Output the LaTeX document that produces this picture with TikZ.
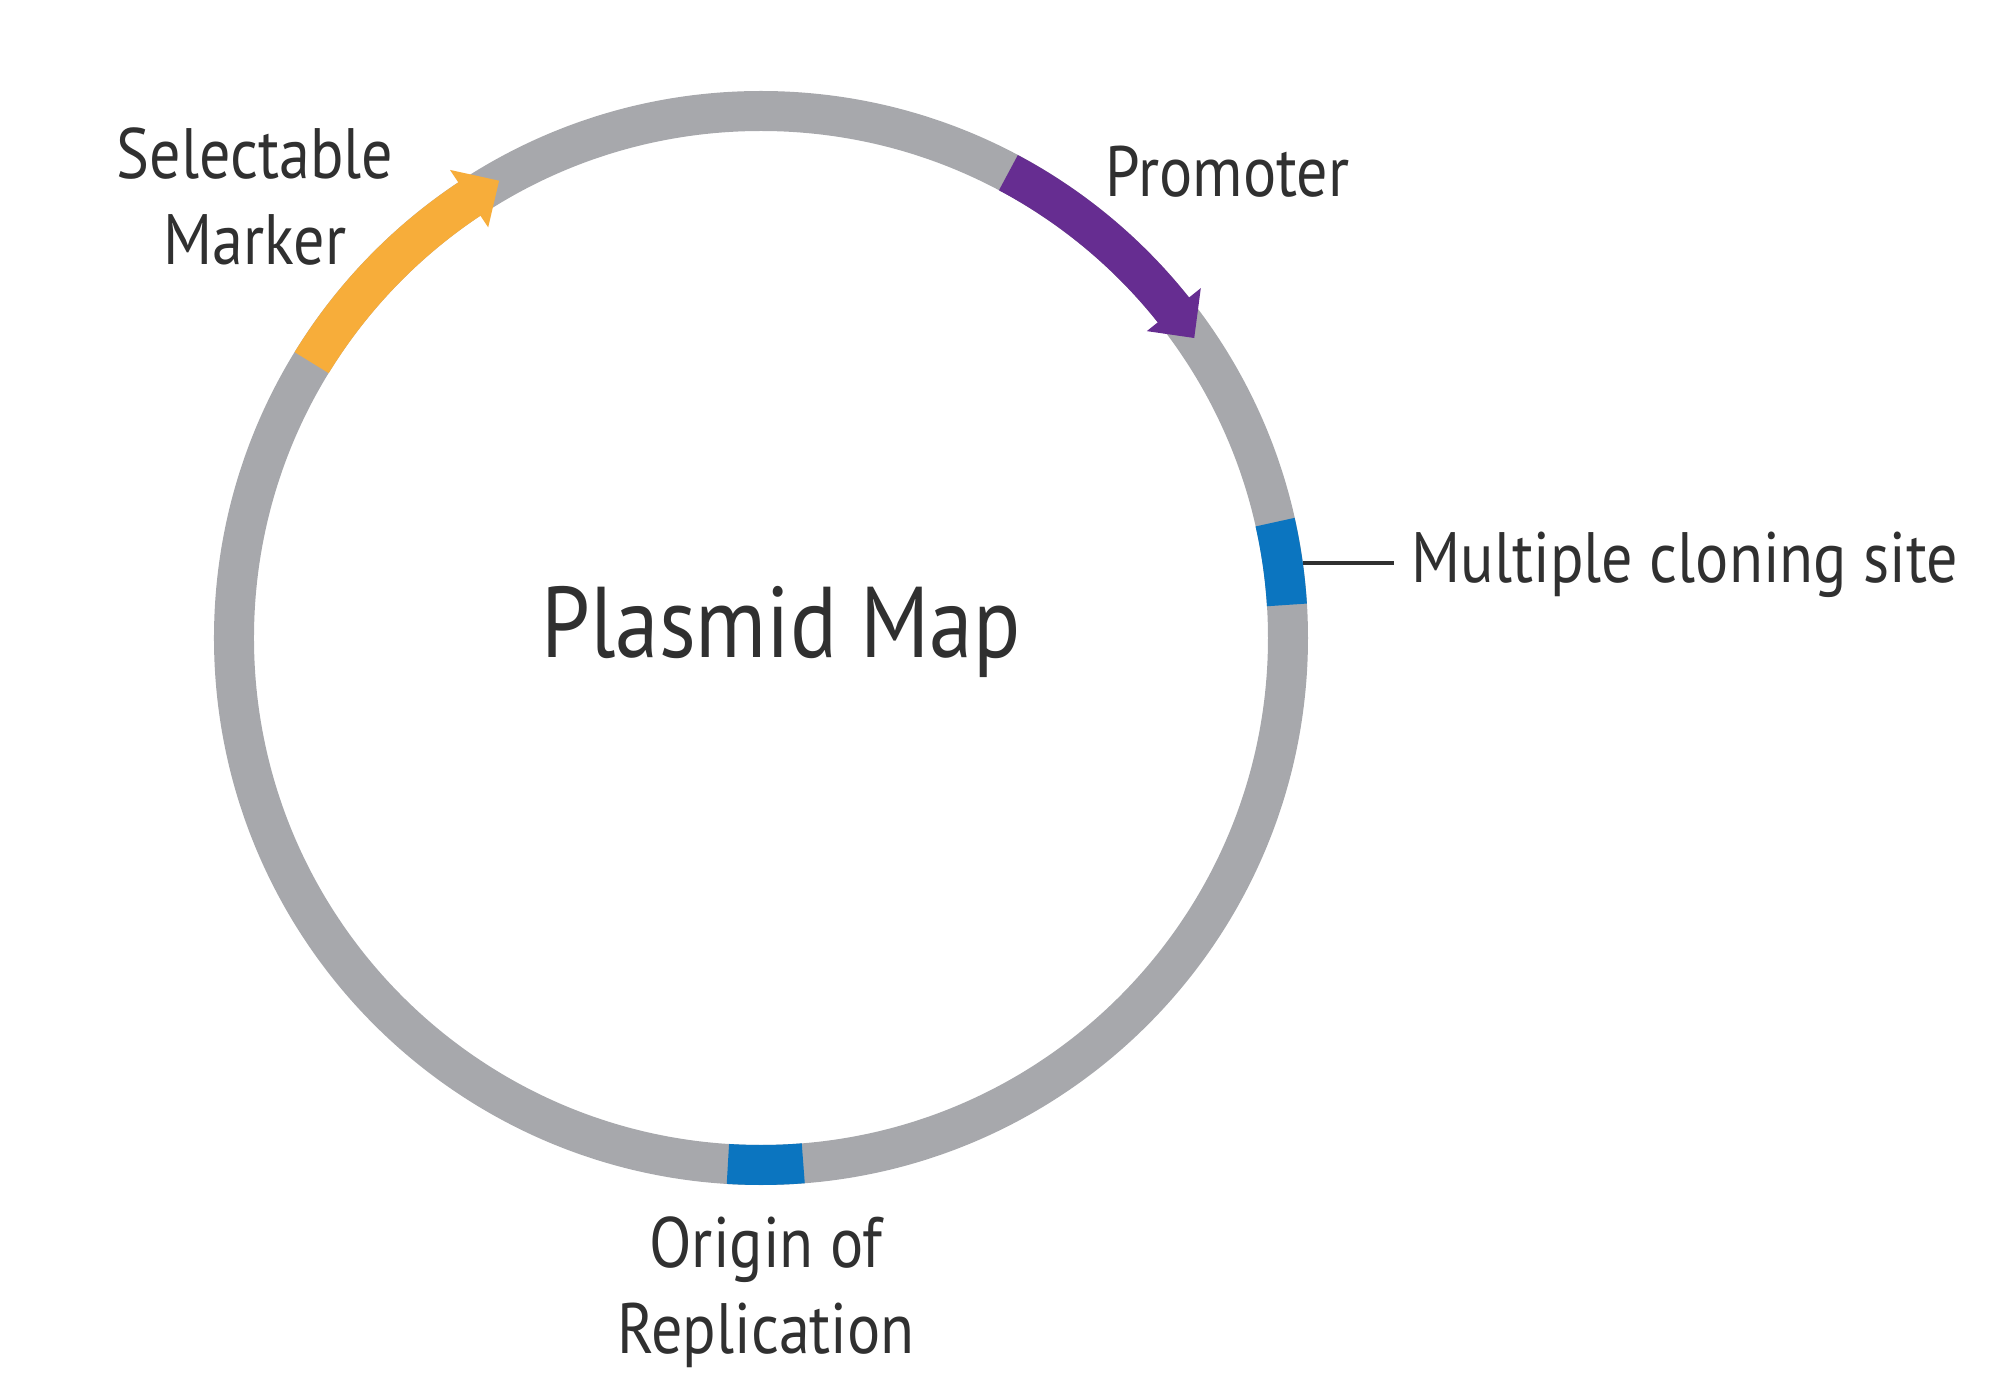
\documentclass[tikz,border=0pt]{standalone}
\usepackage{fontspec}
\setmainfont[FakeStretch=0.87]{PT Sans}
\usetikzlibrary{positioning, calc}
\definecolor{pmgray}{RGB}{167,168,172}
\definecolor{pmorange}{RGB}{247,173,58}
\definecolor{pmpurple}{RGB}{102,45,145}
\definecolor{pmblue}{RGB}{11,117,192}
\definecolor{pmtext}{RGB}{48,48,48}
\tikzset{
    ring/.style={draw=pmgray, line width=4mm},
    seg/.style={line width=4mm},
    lbl/.style={font=\fontsize{20.3}{24.5}\selectfont, text=pmtext, inner sep=0pt, align=center},
    bigtitle/.style={font=\fontsize{28.6}{33}\selectfont, text=pmtext, inner sep=0pt},
    tick/.style={draw=pmtext, line width=1.2pt},
}

\begin{document}
\begin{tikzpicture}
    \useasboundingbox (-7.61,-7.53) rectangle (12.39,6.38);
    \coordinate (c) at (0,0);
    \draw[ring] (c) circle (5.27);
    \draw[seg, pmorange] (148.5:5.27) arc[start angle=148.5, end angle=123.3, radius=5.27];
    \fill[pmorange] (123.6:5.62) -- (119.8:5.27) -- (123.6:4.93) -- cycle;
    \draw[seg, pmpurple] (62:5.27) arc[start angle=62, end angle=38.3, radius=5.27];
    \fill[pmpurple] (38.5:5.62) -- (34.7:5.27) -- (38.5:4.93) -- cycle;
    \draw[seg, pmblue] (3.6:5.27) arc[start angle=3.6, end angle=12.7, radius=5.27];
    \draw[seg, pmblue] (-93.6:5.27) arc[start angle=-93.6, end angle=-85.4, radius=5.27];
    \coordinate (mcsdot) at (7.9:5.47);
    \node[bigtitle, anchor=base] (title) at (0.20,-0.19) {Plasmid Map};
    \node[lbl, anchor=north] (marker) at (-5.06,5.11) {Selectable\\Marker};
    \node[lbl, anchor=base west] (promoter) at (3.44,4.41) {Promoter};
    \node[lbl, anchor=base west] (mcs) at (6.50,0.56) {Multiple cloning site};
    \node[lbl, anchor=north] (ori) at (0.05,-5.775) {Origin of\\Replication};
    \draw[tick] (mcsdot) -- ($(mcsdot -| mcs.west)+(-0.17,0)$);
\end{tikzpicture}
\end{document}
